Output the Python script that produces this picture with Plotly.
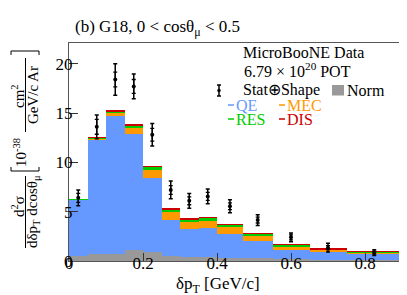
import plotly.graph_objects as go

# ---------------- data ----------------
bin_edges = [0, 0.05, 0.1, 0.15, 0.2, 0.25, 0.3, 0.35, 0.4, 0.47, 0.55, 0.65, 0.75, 0.9]
qe = [6.2, 12.3, 14.75, 12.9, 8.45, 4.2, 3.2, 3.3, 2.75, 2.0, 1.15, 0.9, 0.75]
mec = [0.03, 0.1, 0.3, 0.6, 0.75, 0.75, 0.75, 0.8, 0.65, 0.55, 0.33, 0.22, 0.12]
res = [0.02, 0.1, 0.15, 0.25, 0.35, 0.3, 0.3, 0.3, 0.25, 0.2, 0.15, 0.08, 0.05]
dis = [0.0, 0.02, 0.03, 0.05, 0.05, 0.05, 0.05, 0.05, 0.04, 0.04, 0.03, 0.02, 0.02]
norm = [0.55, 0.75, 0.75, 1.1, 0.9, 0.5, 0.45, 0.45, 0.35, 0.27, 0.17, 0.08, 0.04]
data = [6.4, 13.6, 18.4, 17.7, 12.8, 7.2, 6.1, 6.55, 5.55, 4.15, 2.4, 1.35, 0.85]
err_total = [0.8, 1.2, 1.6, 1.25, 1.15, 0.9, 0.75, 0.75, 0.65, 0.55, 0.45, 0.45, 0.3]
err_stat = [0.45, 0.75, 0.75, 0.7, 0.65, 0.45, 0.4, 0.4, 0.35, 0.3, 0.25, 0.2, 0.15]
x_ticks = [0, 0.2, 0.4, 0.6, 0.8]
x_ticktext = ["0", "0.2", "0.4", "0.6", "0.8"]
y_ticks = [0, 5, 10, 15, 20]
y_ticktext = ["0", "5", "10", "15", "20"]

centers = [(a + b) / 2 for a, b in zip(bin_edges[:-1], bin_edges[1:])]
widths = [b - a for a, b in zip(bin_edges[:-1], bin_edges[1:])]
base_mec = list(qe)
base_res = [a + b for a, b in zip(qe, mec)]
base_dis = [a + b + c for a, b, c in zip(qe, mec, res)]

C_QE = "#6699FF"
C_MEC = "#FF9900"
C_RES = "#00CC00"
C_DIS = "#CC0000"
C_NORM = "#999999"
FONT = "Liberation Serif"

W, H = 407, 295
L, R, T, B = 61, 13, 35, 42


def px(x):
    return (x - L) / (W - L - R)


def py(y):
    return (H - B - y) / (H - T - B)


fig = go.Figure()
for vals, base, col in [(qe, [0] * len(qe), C_QE), (mec, base_mec, C_MEC),
                        (res, base_res, C_RES), (dis, base_dis, C_DIS),
                        (norm, [0] * len(norm), C_NORM)]:
    fig.add_trace(go.Bar(x=centers, y=vals, base=base, width=widths,
                         marker=dict(color=col, line=dict(width=0)),
                         hoverinfo="skip"))

fig.add_trace(go.Scatter(x=centers, y=data, mode="markers",
                         marker=dict(size=1, color="black"),
                         error_y=dict(type="data", array=err_stat, color="black",
                                      thickness=1.3, width=2)))
fig.add_trace(go.Scatter(x=centers, y=data, mode="markers",
                         marker=dict(size=4, color="black"),
                         error_y=dict(type="data", array=err_total, color="black",
                                      thickness=1.5, width=2)))

tickfont = dict(family=FONT, size=17, color="black")
fig.update_xaxes(range=[0, 0.9], tickmode="array", tickvals=x_ticks, ticktext=x_ticktext,
                 ticks="inside", ticklen=8, tickcolor="#333333", tickfont=tickfont,
                 ticklabelstandoff=-13,
                 showgrid=False, zeroline=False, showline=True, linecolor="#555555",
                 linewidth=1, mirror=True)
fig.update_yaxes(range=[0, 22.1], tickmode="array", tickvals=y_ticks, ticktext=y_ticktext,
                 ticks="inside", ticklen=9, tickcolor="#333333", tickfont=tickfont,
                 ticklabelstandoff=-8,
                 showgrid=False, zeroline=False, showline=True, linecolor="#555555",
                 linewidth=1, mirror=True)

ann = []
shapes = []


def text(x, y, s, size=16, color="black", xanchor="left", angle=0):
    ann.append(dict(x=px(x), y=py(y), xref="paper", yref="paper", text=s,
                    showarrow=False, xanchor=xanchor, yanchor="middle",
                    textangle=angle, font=dict(family=FONT, size=size, color=color)))


def line(x0, y0, x1, y1, color="black", width=1):
    shapes.append(dict(type="line", xref="paper", yref="paper",
                       x0=px(x0), y0=py(y0), x1=px(x1), y1=py(y1),
                       line=dict(color=color, width=width)))


# title
text(65, 20, "(b) G18, 0 &lt; cosθ<sub>μ</sub> &lt; 0.5", size=17)

# legend block
text(233, 45, "MicroBooNE Data", size=16)
text(234, 62, "6.79 × 10<sup>20</sup> POT", size=16)
# error-bar symbol
line(211, 77, 211, 88, width=1.5)
line(209, 77, 213, 77, width=1.5)
line(209, 88, 213, 88, width=1.5)
shapes.append(dict(type="circle", xref="paper", yref="paper",
                   x0=px(209.3), x1=px(212.7), y0=py(84.2), y1=py(80.8),
                   fillcolor="black", line=dict(width=0)))
text(233, 82, "Stat⊕Shape", size=16)
shapes.append(dict(type="rect", xref="paper", yref="paper",
                   x0=px(324), x1=px(336), y0=py(87.5), y1=py(77),
                   fillcolor=C_NORM, line=dict(width=0)))
text(337, 82, "Norm", size=16)
line(220, 97, 226, 97, color=C_QE, width=1.5)
text(226, 97, "QE", size=16, color=C_QE)
line(271, 97, 277, 97, color=C_MEC, width=1.5)
text(277, 97, "MEC", size=16, color=C_MEC)
line(220, 111, 226, 111, color=C_RES, width=1.5)
text(226, 111, "RES", size=16, color=C_RES)
line(271, 111, 277, 111, color=C_DIS, width=1.5)
text(277, 111, "DIS", size=16, color=C_DIS)

# x axis title
text(210, 277, "δp<sub>T</sub> [GeV/c]", size=17, xanchor="center")

# y axis title (rotated pieces)
text(10, 199, "d<sup>2</sup>σ", size=15, xanchor="center", angle=-90)
line(17.5, 168, 17.5, 240, width=1)
text(25, 204, "dδp<sub>T</sub> dcosθ<sub>μ</sub>", size=15, xanchor="center", angle=-90)
# bracket bottom "["
line(3, 163, 31, 163, width=1)
line(3, 163, 3, 159, width=1)
line(31, 163, 31, 159, width=1)
text(12, 145, "10<sup>-38</sup>", size=15, xanchor="center", angle=-90)
line(17.5, 50, 17.5, 124, width=1)
text(10, 88, "cm<sup>2</sup>", size=15, xanchor="center", angle=-90)
text(25, 87, "GeV/c Ar", size=15, xanchor="center", angle=-90)
# bracket top "]"
line(3, 43, 31, 43, width=1)
line(3, 43, 3, 47, width=1)
line(31, 43, 31, 47, width=1)

fig.update_layout(width=W, height=H, margin=dict(l=L, r=R, t=T, b=B),
                  barmode="overlay", bargap=0, showlegend=False,
                  plot_bgcolor="white", paper_bgcolor="white",
                  annotations=ann, shapes=shapes,
                  font=dict(family=FONT, color="black"))

fig.write_html("out.html")
